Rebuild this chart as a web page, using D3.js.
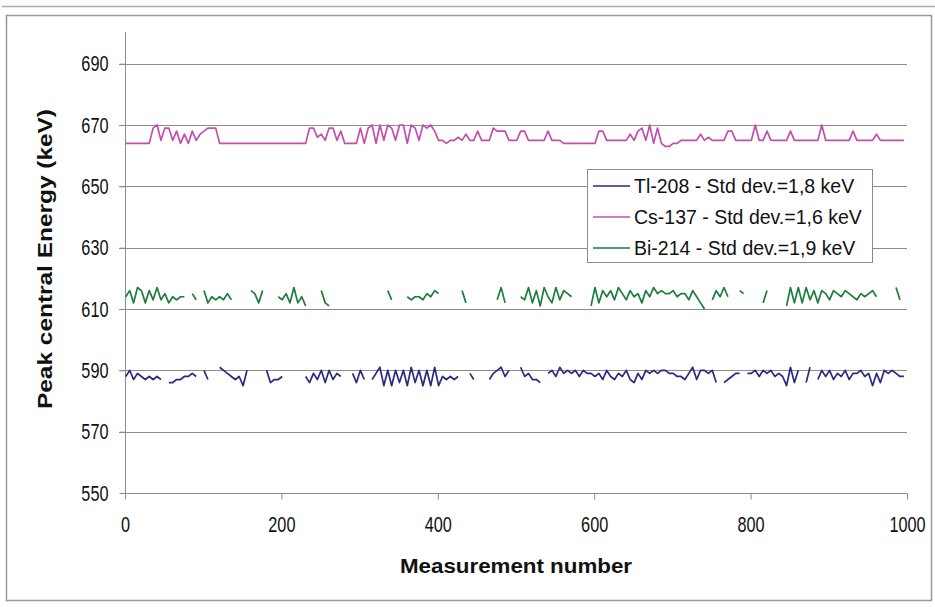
<!DOCTYPE html>
<html><head><meta charset="utf-8">
<script src="https://cdn.jsdelivr.net/npm/d3@7"></script>
<style>body{margin:0;background:#fff}svg{display:block}</style>
</head><body><svg id="c" width="935" height="607"></svg>
<script>
const yTicks = [550,570,590,610,630,650,670,690];
const xTicks = [0,200,400,600,800,1000];
const seriesNames = ["Tl-208 - Std dev.=1,8 keV","Cs-137 - Std dev.=1,6 keV","Bi-214 - Std dev.=1,9 keV"];
const N = null;
// sampled every 5th measurement (null = no peak found)
const tl208 = [588,590,587,589,588,587,588,587,588,587,N,586,586,587,587,588,588,589,588,N,
590,587,N,N,591,590,589,588,587,588,585,590,N,N,N,N,590,586,587,587,
588,N,N,N,N,N,588,586,589,587,590,586,590,587,589,588,N,N,589,586,
590,587,N,587,589,591,585,590,585,590,586,590,585,591,586,590,585,590,585,591,
585,588,587,588,587,588,N,N,589,587,N,N,N,587,589,590,591,588,590,N,
N,591,588,589,587,587,586,N,589,590,588,591,589,590,589,590,588,590,589,589,
588,589,587,590,588,587,589,588,590,587,586,589,587,590,589,590,589,590,590,589,
589,588,588,587,589,591,587,590,590,589,590,586,N,586,587,588,589,589,N,589,
589,590,588,590,589,590,588,589,588,585,591,586,590,N,586,591,N,587,590,588,
590,587,589,588,590,587,589,589,590,588,589,585,589,586,590,589,590,589,588,588];
const cs137 = [664,664,664,664,664,664,664,669,670,665,669,669,665,668,664,667,664,668,665,667,
668,669,669,669,664,664,664,664,664,664,664,664,664,664,664,664,664,664,664,664,
664,664,664,664,664,664,664,669,669,666,667,665,669,669,665,668,664,664,664,664,
669,664,669,670,664,670,665,670,669,665,670,670,664,670,669,665,670,669,670,668,
665,665,664,665,665,666,665,667,665,665,668,665,665,665,669,668,668,668,665,665,
665,668,668,665,665,665,665,665,668,665,665,665,664,664,664,664,664,664,664,664,
664,668,668,665,665,665,665,665,665,667,665,668,669,665,670,664,669,664,663,663,
664,664,665,665,665,665,665,667,665,666,665,665,665,665,668,668,665,665,665,665,
665,670,665,665,668,665,665,665,665,665,668,665,665,665,665,665,665,665,670,665,
665,665,665,665,665,665,668,665,665,665,665,665,667,665,665,665,665,665,665,665];
const bi214 = [614,616,612,617,616,612,616,613,617,613,615,612,614,613,614,614,N,615,613,N,
616,612,614,613,614,613,615,613,N,N,N,N,616,615,612,616,N,N,N,614,
613,615,612,617,612,614,611,N,N,N,616,612,611,N,N,N,N,N,N,N,
N,N,N,N,N,N,N,616,613,N,N,N,614,613,614,614,613,615,614,616,
615,N,N,N,N,N,616,612,N,N,N,N,N,N,N,613,617,612,N,N,
N,614,613,617,612,616,611,617,614,612,617,613,616,615,614,N,N,N,N,611,
617,612,616,614,616,613,617,615,613,616,614,615,612,616,614,617,615,616,615,615,
616,614,615,615,613,616,614,612,610,N,613,616,614,617,614,N,N,616,615,N,
N,N,N,612,616,N,N,N,N,611,617,612,617,612,617,613,616,612,616,615,
613,616,615,614,616,615,614,613,615,614,615,616,614,N,N,N,N,617,613,N];
const measurement = d3.range(tl208.length).map(i => 1 + i*5);
const colors = ["#2a2a80","#c24fae","#1c7d3c"];

const svg = d3.select("#c");
svg.append("line").attr("x1",2).attr("x2",935).attr("y1",6.5).attr("y2",6.5).attr("stroke","#aaa").attr("stroke-width",1.5);
svg.append("rect").attr("x",6.5).attr("y",15.5).attr("width",925).attr("height",585).attr("fill","#fff").attr("stroke","#9a9a9a").attr("stroke-width",1.5);

const x = d3.scaleLinear().domain([0,1000]).range([125,907]);
const y = d3.scaleLinear().domain([550,700]).range([493,33]);
const font = "'Liberation Sans',Arial,sans-serif";
const sx = 0.74;

// gridlines
svg.append("g").selectAll("line").data(yTicks.filter(v=>v>550)).join("line")
  .attr("x1",119).attr("x2",907).attr("y1",d=>Math.round(y(d))+0.5).attr("y2",d=>Math.round(y(d))+0.5)
  .attr("stroke","#8c8c8c").attr("stroke-width",1);

const gy = svg.append("g").attr("transform","translate(125.5,0)")
  .call(d3.axisLeft(y).tickValues(yTicks).tickSize(6).tickPadding(10).tickFormat(d3.format("d")));
gy.select(".domain").attr("stroke","#8c8c8c").attr("d","M0,32V493");
gy.selectAll(".tick line").attr("stroke","#8c8c8c");
gy.selectAll("text").attr("font-family",font).attr("font-size",22).attr("fill","#111")
  .attr("x",-17/sx).attr("transform",`scale(${sx},1)`);

const gx = svg.append("g").attr("transform","translate(0,493.5)")
  .call(d3.axisBottom(x).tickValues(xTicks).tickSize(6).tickPadding(17).tickFormat(d3.format("d")));
gx.select(".domain").attr("stroke","#8c8c8c").attr("d","M125,0H907");
gx.selectAll(".tick line").attr("stroke","#8c8c8c");
gx.selectAll("text").attr("font-family",font).attr("font-size",22).attr("fill","#111").attr("transform",`scale(${sx},1)`);

const line = d3.line().defined(d=>d[1]!==null).x(d=>x(d[0])).y(d=>y(d[1]));
[tl208,cs137,bi214].forEach((s,k)=>{
  svg.append("path").datum(s.map((v,i)=>[measurement[i],v]))
    .attr("d",line).attr("fill","none").attr("stroke",colors[k]).attr("stroke-width",1.7).attr("stroke-linejoin","round");
});

// legend
const lg = svg.append("g");
lg.append("rect").attr("x",587.5).attr("y",169.5).attr("width",285).attr("height",93).attr("fill","#fff").attr("stroke","#8c8c8c");
seriesNames.forEach((n,k)=>{
  const yy = 186 + k*31;
  lg.append("line").attr("x1",593).attr("x2",630).attr("y1",yy).attr("y2",yy).attr("stroke",colors[k]).attr("stroke-width",1.6);
  lg.append("text").attr("x",634).attr("y",yy+7).attr("font-family",font).attr("font-size",19.5).attr("fill","#111").text(n);
});

svg.append("text").attr("x",516).attr("y",573).attr("text-anchor","middle").attr("font-family",font).attr("font-weight","bold").attr("font-size",21).attr("textLength",232).attr("lengthAdjust","spacingAndGlyphs").attr("fill","#111").text("Measurement number");
svg.append("text").attr("transform","translate(52,259) rotate(-90)").attr("text-anchor","middle").attr("font-family",font).attr("font-weight","bold").attr("font-size",21).attr("textLength",300).attr("lengthAdjust","spacingAndGlyphs").attr("fill","#111").text("Peak central Energy (keV)");
</script></body></html>
